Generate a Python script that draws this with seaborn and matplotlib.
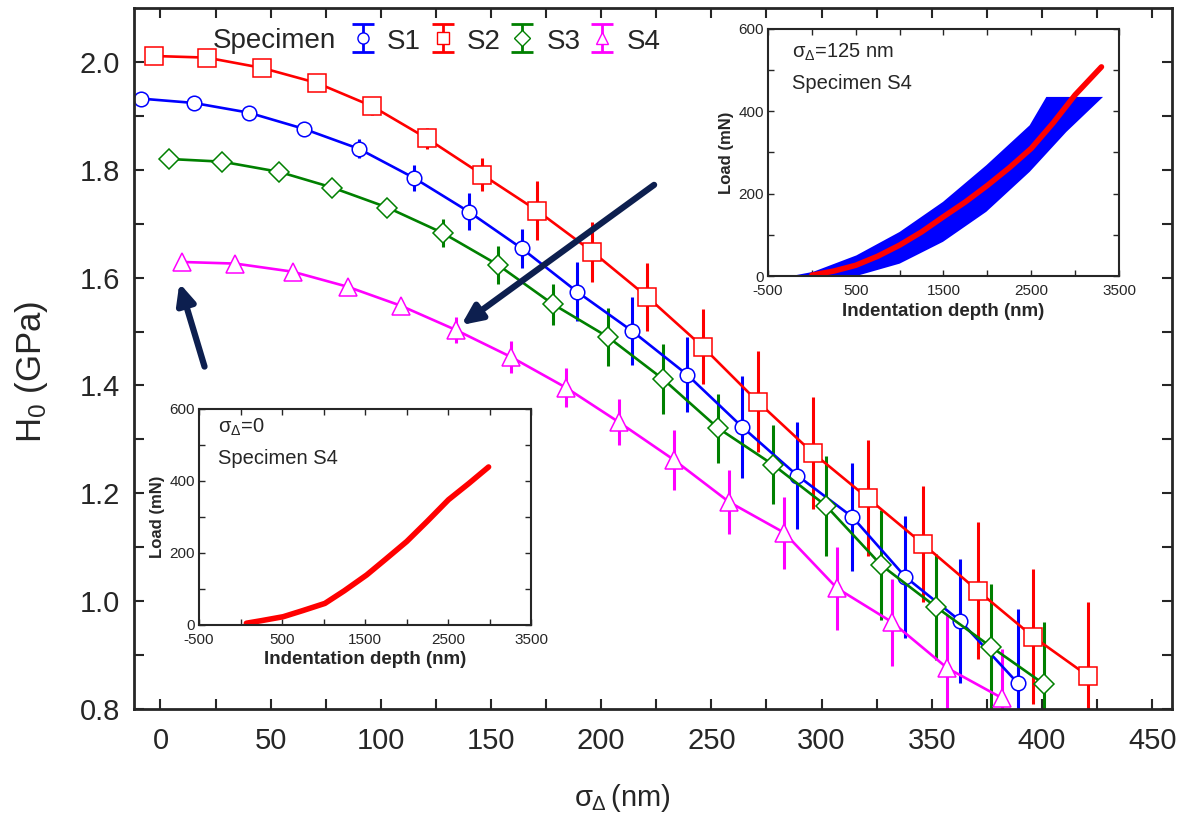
import numpy as np
import pandas as pd
import seaborn as sns
import matplotlib.pyplot as plt

# main data: sigma_delta (nm) vs H0 (GPa) with error bars
s1_x = [-9, 15, 40, 65, 90, 115, 140, 164, 189, 214, 239, 264, 289, 314, 338, 363, 389]
s1_y = [1.932, 1.924, 1.906, 1.876, 1.839, 1.785, 1.722, 1.654, 1.574, 1.501, 1.420, 1.323, 1.233, 1.156, 1.045, 0.963, 0.848]
s1_e = [0.003, 0.004, 0.005, 0.008, 0.018, 0.024, 0.034, 0.037, 0.055, 0.063, 0.070, 0.095, 0.099, 0.100, 0.113, 0.115, 0.137]

s2_x = [-3, 21, 46, 71, 96, 121, 146, 171, 196, 221, 246, 271, 296, 321, 346, 371, 396, 421]
s2_y = [2.011, 2.008, 1.989, 1.961, 1.918, 1.858, 1.791, 1.724, 1.648, 1.564, 1.472, 1.370, 1.275, 1.191, 1.106, 1.019, 0.934, 0.861]
s2_e = [0.003, 0.004, 0.006, 0.010, 0.017, 0.019, 0.031, 0.055, 0.056, 0.063, 0.069, 0.094, 0.104, 0.107, 0.108, 0.127, 0.125, 0.137]

s3_x = [4, 28, 54, 78, 103, 128, 153, 178, 203, 228, 253, 278, 302, 327, 352, 377, 401]
s3_y = [1.820, 1.815, 1.796, 1.767, 1.730, 1.683, 1.624, 1.551, 1.490, 1.412, 1.321, 1.253, 1.177, 1.067, 0.989, 0.915, 0.846]
s3_e = [0.003, 0.004, 0.005, 0.007, 0.010, 0.026, 0.035, 0.038, 0.053, 0.064, 0.064, 0.073, 0.093, 0.102, 0.098, 0.116, 0.115]

s4_x = [10, 34, 60, 85, 109, 134, 159, 184, 208, 233, 258, 283, 307, 332, 357, 382]
s4_y = [1.629, 1.626, 1.611, 1.583, 1.548, 1.503, 1.453, 1.396, 1.332, 1.262, 1.184, 1.127, 1.024, 0.961, 0.876, 0.820]
s4_e = [0.003, 0.004, 0.005, 0.007, 0.010, 0.024, 0.030, 0.036, 0.042, 0.056, 0.060, 0.067, 0.077, 0.081, 0.098, 0.091]

specimens = ['S1', 'S2', 'S3', 'S4']
colors = {'S1': '#0000ff', 'S2': '#ff0000', 'S3': '#008000', 'S4': '#ff00ff'}
markers = {'S1': 'o', 'S2': 's', 'S3': 'D', 'S4': '^'}
msizes = {'S1': 10.5, 'S2': 12.5, 'S3': 10.5, 'S4': 12.5}

# inset 1: sigma=125 nm, blue band edges and red mean curve
band_up_x = [-234, 13, 507, 1000, 1494, 1988, 2482, 2672, 3318]
band_up_y = [0, 10, 50, 107, 180, 269, 366, 435, 435]
band_lo_x = [507, 1000, 1494, 1988, 2482, 2900, 3318]
band_lo_y = [0, 30, 83, 156, 253, 350, 435]
red125_x = [0, 250, 500, 750, 1000, 1250, 1500, 1750, 2000, 2250, 2500, 2750, 3000, 3300]
red125_y = [2, 12, 26, 48, 75, 107, 144, 180, 220, 263, 310, 372, 440, 508]

# inset 2: sigma=0
red0_x = [71, 250, 514, 750, 1017, 1250, 1520, 1750, 2003, 2250, 2506, 2750, 2989]
red0_y = [5, 12, 23, 40, 60, 95, 139, 183, 232, 288, 348, 393, 439]

df = pd.concat([
    pd.DataFrame({'sigma': x, 'H0': y, 'err': e, 'Specimen': s})
    for s, x, y, e in zip(specimens, [s1_x, s2_x, s3_x, s4_x],
                          [s1_y, s2_y, s3_y, s4_y], [s1_e, s2_e, s3_e, s4_e])
], ignore_index=True)

sns.set_style('ticks')
plt.rcParams['font.family'] = ['Liberation Sans', 'DejaVu Sans']
plt.rcParams['mathtext.fontset'] = 'custom'
plt.rcParams['mathtext.rm'] = 'Liberation Sans'
plt.rcParams['mathtext.it'] = 'Liberation Sans'
plt.rcParams['axes.unicode_minus'] = False

fig = plt.figure(figsize=(11.8, 8.21), dpi=100)
ax = fig.add_axes([134 / 1180, 1 - 709 / 821, 1038 / 1180, 701 / 821])

for s in specimens:
    d = df[df['Specimen'] == s]
    ax.errorbar(d['sigma'], d['H0'], yerr=d['err'], fmt='none', ecolor=colors[s],
                elinewidth=2.2, capsize=0, zorder=1)

sns.lineplot(data=df, x='sigma', y='H0', hue='Specimen', style='Specimen',
             markers=markers, dashes=False, palette=colors, linewidth=1.9,
             markerfacecolor='white', markeredgewidth=1.1, sort=False,
             legend=False, ax=ax, zorder=2)
for line, s in zip(ax.lines, specimens):
    line.set_markeredgecolor(colors[s])
    line.set_markersize(msizes[s])

ax.set_xlim(-12, 459)
ax.set_ylim(0.8, 2.1)
ax.set_xticks(np.arange(0, 451, 50))
ax.set_xticks(np.arange(0, 451, 25), minor=True)
ax.set_yticks(np.arange(0.8, 2.01, 0.2))
ax.set_yticks(np.arange(0.8, 2.05, 0.1), minor=True)
ax.set_yticklabels([f'{v:.1f}' for v in np.arange(0.8, 2.01, 0.2)])
ax.tick_params(which='both', direction='in', top=True, right=True,
               length=7, width=1.5, labelsize=21)
ax.tick_params(axis='x', pad=13)
ax.tick_params(axis='y', pad=10)
for sp in ax.spines.values():
    sp.set_linewidth(2)
ax.set_xlabel(r'$\sigma_\Delta\,$(nm)', fontsize=21)
ax.set_ylabel(r'H$_0$ (GPa)', fontsize=25)
ax.xaxis.set_label_coords((622 - 134) / 1038, (709 - 782) / 701)
ax.yaxis.set_label_coords((50 - 134) / 1038, (709 - 372) / 701)

# legend with caps on handles
handles = []
for s in specimens:
    h = ax.errorbar([np.nan], [np.nan], yerr=[0.1], fmt=markers[s], color=colors[s],
                    mfc='white', mec=colors[s], ms=8, capsize=8, elinewidth=2,
                    capthick=2, lw=2, label=s)
    handles.append(h)
ax.legend(handles=handles, labels=specimens, ncol=4, frameon=False,
          loc='center left', bbox_to_anchor=(337 / 1180, 1 - 41 / 821),
          bbox_transform=fig.transFigure, fontsize=20, handlelength=0.85,
          handleheight=1.1, handletextpad=0.45, columnspacing=0.35, borderpad=0)
fig.text(213 / 1180, 1 - 41 / 821, 'Specimen', fontsize=20, va='center', ha='left')

# arrows
arrow_color = '#0d1f4f'
ax.annotate('', xy=(8.6, 1.59), xytext=(20, 1.435),
            arrowprops=dict(arrowstyle='-|>,head_length=1.2,head_width=0.55',
                            color=arrow_color, lw=4.5, shrinkA=0, shrinkB=0))
ax.annotate('', xy=(136.5, 1.512), xytext=(224, 1.772),
            arrowprops=dict(arrowstyle='-|>,head_length=1.2,head_width=0.55',
                            color=arrow_color, lw=4.5, shrinkA=0, shrinkB=0))


def style_inset(a):
    a.set_xlim(-500, 3500)
    a.set_ylim(0, 600)
    a.set_xticks([-500, 500, 1500, 2500, 3500])
    a.set_xticks(np.arange(-500, 3501, 500), minor=True)
    a.set_yticks([0, 200, 400, 600])
    a.set_yticks(np.arange(0, 601, 100), minor=True)
    a.tick_params(which='both', direction='in', top=True, right=True,
                  length=4, width=1, labelsize=11, pad=3)
    a.tick_params(axis='x', pad=6)
    for sp in a.spines.values():
        sp.set_linewidth(1.5)
    a.set_xlabel('Indentation depth (nm)', fontsize=13.5, fontweight='bold', labelpad=3)
    a.set_ylabel('Load (mN)', fontsize=12, fontweight='bold', labelpad=3)


# inset 1 (top right)
ax1 = fig.add_axes([768 / 1180, 1 - 276 / 821, 351 / 1180, 247 / 821])
band_x = band_up_x + band_lo_x[::-1]
band_y = band_up_y + band_lo_y[::-1]
ax1.fill(band_x, band_y, color='#0000ff', lw=0)
sns.lineplot(x=red125_x, y=red125_y, color='#ff0000', linewidth=4, ax=ax1)
style_inset(ax1)
ax1.text(0.068, 0.905, r'$\sigma_\Delta$=125 nm', transform=ax1.transAxes,
         fontsize=14.5, va='center')
ax1.text(0.068, 0.78, 'Specimen S4', transform=ax1.transAxes, fontsize=14.5, va='center')

# inset 2 (bottom left)
ax2 = fig.add_axes([199 / 1180, 1 - 625 / 821, 332 / 1180, 216 / 821])
sns.lineplot(x=red0_x, y=red0_y, color='#ff0000', linewidth=4, ax=ax2)
style_inset(ax2)
ax2.text(0.057, 0.915, r'$\sigma_\Delta$=0', transform=ax2.transAxes,
         fontsize=14.5, va='center')
ax2.text(0.057, 0.77, 'Specimen S4', transform=ax2.transAxes, fontsize=14.5, va='center')

fig.savefig('out.png', dpi=100)
